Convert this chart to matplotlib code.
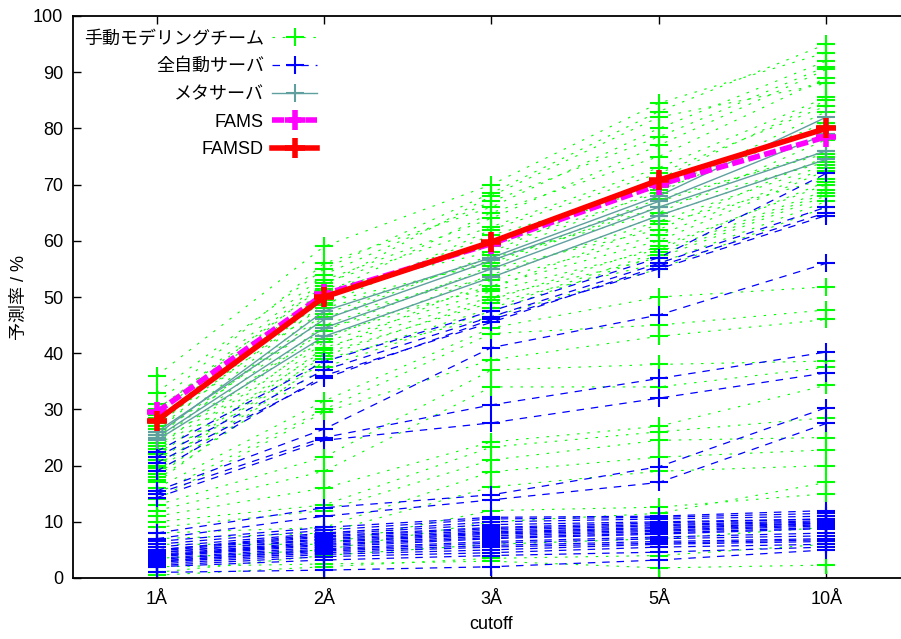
import matplotlib
matplotlib.use('Agg')
import matplotlib.pyplot as plt

plt.rcParams['font.family'] = ['Liberation Sans', 'Noto Sans CJK JP', 'DejaVu Sans']

cutoffs = ['1Å', '2Å', '3Å', '5Å', '10Å']

# 手動モデリングチーム (one row per team, values at each cutoff)
manual_teams = [
    [36.0, 59.0, 70.0, 84.5, 93.5],
    [33.0, 55.0, 68.5, 83.0, 95.0],
    [31.0, 56.0, 66.0, 80.0, 92.0],
    [30.0, 52.0, 68.0, 82.0, 88.0],
    [29.5, 54.0, 67.0, 78.5, 91.0],
    [29.0, 53.0, 64.0, 77.0, 90.5],
    [28.5, 50.5, 65.0, 75.0, 89.0],
    [28.0, 52.5, 62.5, 73.0, 85.5],
    [27.5, 48.5, 62.0, 72.0, 84.0],
    [27.0, 51.5, 58.0, 71.0, 85.0],
    [26.5, 49.5, 61.0, 69.5, 81.0],
    [26.0, 51.0, 59.0, 68.5, 83.0],
    [25.5, 46.0, 57.5, 69.0, 80.5],
    [25.0, 49.0, 56.0, 67.5, 75.5],
    [24.5, 47.0, 57.0, 65.0, 78.0],
    [24.0, 48.0, 56.5, 66.0, 74.0],
    [23.5, 44.0, 55.5, 67.0, 76.0],
    [23.0, 46.5, 53.5, 64.5, 74.5],
    [22.5, 45.0, 55.0, 62.0, 75.0],
    [22.0, 42.5, 54.0, 63.5, 73.5],
    [21.5, 44.5, 51.5, 63.0, 71.0],
    [21.0, 40.5, 53.0, 61.0, 73.0],
    [20.5, 43.0, 52.0, 60.0, 72.5],
    [20.0, 39.5, 49.5, 59.0, 70.0],
    [19.5, 42.0, 51.0, 58.5, 70.5],
    [19.0, 41.0, 50.0, 57.0, 68.0],
    [18.5, 38.5, 48.0, 58.0, 69.0],
    [18.0, 40.0, 49.0, 56.0, 67.0],
    [17.5, 37.5, 47.5, 57.5, 68.5],
    [17.0, 39.0, 46.5, 55.0, 66.0],
    [16.0, 31.5, 44.5, 50.0, 51.8],
    [15.0, 30.0, 43.5, 45.0, 47.7],
    [14.0, 29.5, 38.8, 43.0, 46.0],
    [13.0, 21.5, 37.0, 38.0, 38.6],
    [12.0, 19.0, 34.0, 34.0, 37.5],
    [11.0, 16.0, 24.2, 27.0, 34.3],
    [10.0, 13.0, 23.3, 26.0, 28.5],
    [9.0, 12.0, 21.0, 24.5, 25.0],
    [8.0, 9.0, 18.9, 21.5, 22.8],
    [7.0, 8.0, 16.2, 19.0, 20.0],
    [6.0, 6.0, 12.0, 12.6, 15.0],
    [3.5, 5.0, 10.0, 11.5, 17.0],
    [1.0, 4.0, 6.0, 7.0, 9.0],
    [2.0, 2.5, 3.0, 1.8, 2.3],
    [0.5, 2.0, 3.5, 4.0, 6.0],
]

# 全自動サーバ
auto_servers = [
    [22.5, 38.5, 47.5, 57.0, 72.0],
    [21.5, 37.0, 46.5, 56.0, 66.0],
    [20.5, 35.5, 46.0, 55.0, 64.5],
    [19.0, 36.0, 45.5, 55.5, 65.0],
    [15.5, 26.5, 41.0, 46.8, 56.0],
    [15.0, 25.0, 30.8, 35.5, 40.2],
    [14.3, 24.5, 27.6, 32.0, 36.5],
    [8.0, 12.5, 14.8, 19.8, 30.3],
    [7.0, 11.0, 13.9, 17.0, 27.5],
    [6.5, 9.0, 10.8, 11.0, 12.0],
    [6.0, 8.5, 10.5, 10.8, 11.5],
    [5.5, 8.0, 10.0, 10.5, 11.0],
    [5.0, 7.8, 9.5, 10.0, 10.5],
    [5.0, 7.5, 9.0, 9.8, 10.5],
    [4.8, 7.3, 8.8, 9.5, 10.2],
    [4.5, 7.0, 8.5, 9.3, 10.0],
    [4.5, 6.8, 8.2, 9.0, 9.8],
    [4.2, 6.5, 8.0, 8.8, 9.7],
    [4.0, 6.3, 7.8, 8.5, 9.5],
    [4.0, 6.0, 7.5, 8.3, 9.3],
    [3.8, 5.8, 7.2, 8.0, 9.0],
    [3.5, 5.5, 7.0, 7.8, 8.8],
    [3.3, 5.2, 6.5, 7.3, 8.0],
    [3.0, 5.0, 6.2, 7.0, 7.5],
    [3.0, 4.8, 5.8, 6.5, 7.0],
    [2.8, 4.5, 5.5, 6.2, 6.8],
    [2.5, 4.2, 5.0, 6.0, 6.5],
    [2.2, 3.8, 4.5, 5.5, 6.0],
    [2.0, 3.2, 4.0, 4.6, 5.5],
    [1.0, 1.4, 2.0, 3.2, 5.0],
]

# メタサーバ
meta_servers = [
    [25.5, 47.5, 57.0, 68.0, 82.0],
    [25.0, 44.5, 55.0, 66.0, 76.0],
    [24.5, 43.0, 53.5, 64.5, 74.5],
    [26.0, 46.0, 56.5, 67.0, 79.0],
]

fams = [29.5, 50.5, 59.5, 70.0, 78.5]
famsd = [28.0, 50.0, 59.8, 70.8, 80.0]

x = list(range(len(cutoffs)))

fig = plt.figure(figsize=(9.01, 6.39), dpi=100)
ax = fig.add_axes([73 / 901, 61 / 639, 837 / 901, 562 / 639])

green = '#00ff00'
blue = '#0000ff'
teal = '#5f9f9f'

for i, row in enumerate(manual_teams):
    ax.plot(x, row, color=green, lw=0.8, ls=(0, (2.2, 7)), marker='+', ms=13, mew=1.5,
            label='手動モデリングチーム' if i == 0 else None)
for i, row in enumerate(auto_servers):
    ax.plot(x, row, color=blue, lw=0.9, ls=(0, (6, 5.5)), marker='+', ms=13, mew=1.5,
            label='全自動サーバ' if i == 0 else None)
for i, row in enumerate(meta_servers):
    ax.plot(x, row, color=teal, lw=1, ls='-', marker='+', ms=13, mew=1.5,
            label='メタサーバ' if i == 0 else None)
ax.plot(x, fams, color='#ff00ff', lw=4, ls=(0, (2.2, 0.8)), marker='+', ms=15, mew=4,
        label='FAMS')
ax.plot(x, famsd, color='#ff0000', lw=4, ls='-', marker='+', ms=15, mew=4,
        label='FAMSD')

ax.set_xlim(-0.5, 4.5)
ax.set_ylim(0, 100)
ax.set_xticks(x)
ax.set_xticklabels(cutoffs)
ax.set_yticks(range(0, 101, 10))
ax.tick_params(direction='in', length=6, width=1, labelsize=13, top=True, right=True)
ax.tick_params(axis='x', pad=9)
ax.tick_params(axis='y', pad=7)
for s in ax.spines.values():
    s.set_linewidth(1.3)

ax.set_xlabel('cutoff', fontsize=13, labelpad=6)
ax.set_ylabel('予測率 / %', fontsize=13, labelpad=4)

leg = ax.legend(loc='upper left', bbox_to_anchor=(0.013, 0.974), frameon=False,
                markerfirst=False, fontsize=13, handlelength=2.5, handletextpad=0.45,
                labelspacing=0.59, borderpad=0, borderaxespad=0, numpoints=1)

fig.savefig('out.png', dpi=100)
